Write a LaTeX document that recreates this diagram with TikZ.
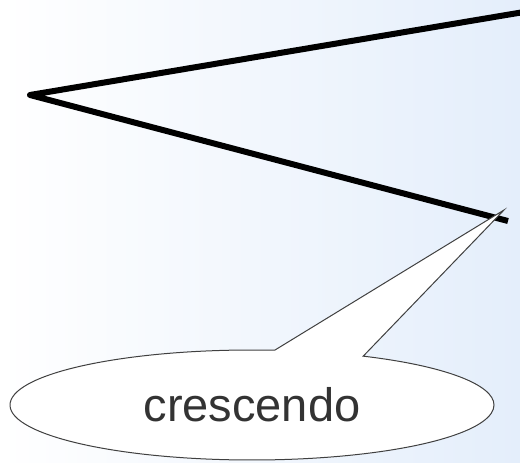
\documentclass[tikz,border=0pt]{standalone}
\usepackage{fontspec}
\setmainfont{Liberation Sans}
\usetikzlibrary{shapes.callouts}
\definecolor{bgblue}{RGB}{228,238,251}

\begin{document}
\begin{tikzpicture}[x=1pt,y=-1pt,
  hairpin/.style={line width=6pt,line join=round},
  bubble/.style={ellipse callout,draw=black!75,fill=white,line width=1pt,minimum width=484pt,minimum height=110pt,inner sep=0pt,callout pointer arc=22,font=\fontsize{47}{50}\selectfont,text=black!80}]
\clip (0,0) rectangle (520,463);
\shade[left color=white,right color=bgblue] (0,0) rectangle (520,463);
\coordinate (open) at (30,95);
\coordinate (upper) at (524,12);
\coordinate (lower) at (508,221);
\coordinate (tip) at (504,210);
\draw[hairpin] (upper) -- (open) -- (lower);
\node[bubble,callout absolute pointer={(tip)}] (label) at (252,405) {crescendo};
\end{tikzpicture}
\end{document}
